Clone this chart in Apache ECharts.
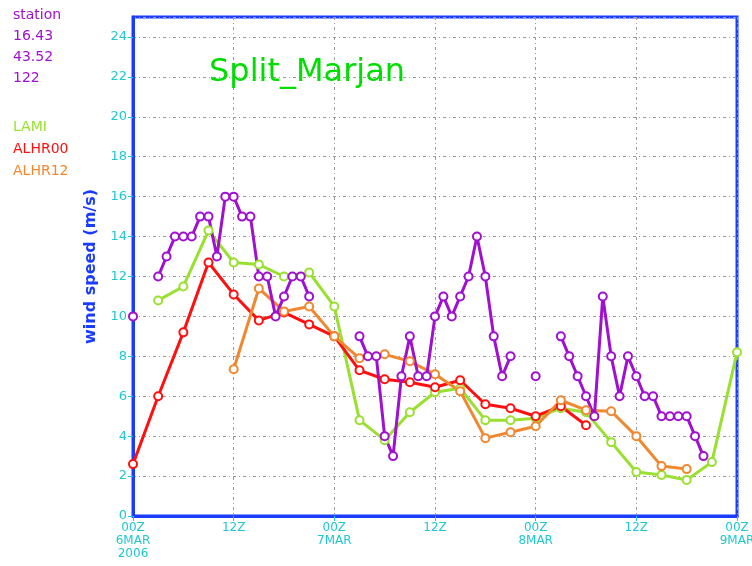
<!DOCTYPE html>
<html>
<head>
<meta charset="utf-8">
<script src="https://cdn.jsdelivr.net/npm/echarts@6/dist/echarts.min.js"></script>
<style>html,body{margin:0;padding:0;background:#fff}#c{width:752px;height:566px}</style>
</head>
<body>
<div id="c"></div>
<script>
// ---- data ----
const stationHours = [0,1,2,3,4,5,6,7,8,9,10,11,12,13,14,15,16,17,18,19,20,21,22,23,24,25,26,27,28,29,30,31,32,33,34,35,36,37,38,39,40,41,42,43,44,45,46,47,48,49,50,51,52,53,54,55,56,57,58,59,60,61,62,63,64,65,66,67,68];
const stationValues = [10,null,null,12,13,14,14,14,15,15,13,16,16,15,15,12,12,10,11,12,12,11,null,null,null,null,null,9,8,8,4,3,7,9,7,7,10,11,10,11,12,14,12,9,7,8,null,null,7,null,null,9,8,7,6,5,11,8,6,8,7,6,6,5,5,5,5,4,3];
const lamiHours = [3,6,9,12,15,18,21,24,27,30,33,36,39,42,45,48,51,54,57,60,63,66,69,72];
const lamiValues = [10.8,11.5,14.3,12.7,12.6,12.0,12.2,10.5,4.8,3.8,5.2,6.2,6.4,4.8,4.8,4.9,5.4,5.2,3.7,2.2,2.05,1.8,2.7,8.2];
const alhr00Hours = [0,3,6,9,12,15,18,21,24,27,30,33,36,39,42,45,48,51,54];
const alhr00Values = [2.6,6.0,9.2,12.7,11.1,9.8,10.2,9.6,9.0,7.3,6.85,6.7,6.45,6.8,5.6,5.4,5.0,5.5,4.55];
const alhr12Hours = [12,15,18,21,24,27,30,33,36,39,42,45,48,51,54,57,60,63,66];
const alhr12Values = [7.35,11.4,10.25,10.5,9.0,7.9,8.1,7.75,7.1,6.25,3.9,4.2,4.5,5.8,5.3,5.25,4.0,2.5,2.35];
const xTickLabels = {0:'00Z\n6MAR\n2006',12:'12Z',24:'00Z\n7MAR',36:'12Z',48:'00Z\n8MAR',60:'12Z',72:'00Z\n9MAR'};
const yTicks = [0,2,4,6,8,10,12,14,16,18,20,22,24];
const stationInfo = ['station','16.43','43.52','122'];
const legendNames = ['LAMI','ALHR00','ALHR12'];

const C_PURPLE = '#a010d0', C_GREEN = '#99e030', C_RED = '#ff1010', C_ORANGE = '#f08830';
const C_CYAN = '#20c8d0', C_BLUE = '#1a3cff';

function pairs(h, v){ return h.map((t,i)=>[t, v[i]]); }

const chart = echarts.init(document.getElementById('c'));
const gridLine = {show:true, lineStyle:{color:'#9a9a9a', width:1, type:[3,3,1,3]}};
function mkSeries(name, h, v, color){
  return {name, type:'line', data:pairs(h,v), connectNulls:false,
    symbol:'emptyCircle', symbolSize:8, showSymbol:true,
    lineStyle:{color, width:3}, itemStyle:{color, borderColor:color, borderWidth:2},
    animation:false, z:3};
}
const infoText = stationInfo.map((s,i)=>({type:'text', left:13, top:8+i*21, style:{text:s, fill:C_PURPLE, font:'14px "DejaVu Sans"'}}));
const legColors = [C_GREEN, C_RED, C_ORANGE];
const legText = legendNames.map((s,i)=>({type:'text', left:13, top:120+i*22, style:{text:s, fill:legColors[i], font:'14px "DejaVu Sans"'}}));

chart.setOption({
  animation:false,
  backgroundColor:'#fff',
  title:{text:'Split_Marjan', left:204, top:52, textStyle:{color:'#00dd00', fontSize:32, fontWeight:'normal', fontFamily:'DejaVu Sans'}},
  grid:{left:133, right:15, top:17, bottom:50, containLabel:false, outerBoundsMode:'none',
    show:true, borderColor:C_BLUE, borderWidth:3, backgroundColor:'transparent'},
  xAxis:{type:'value', min:0, max:72, interval:12,
    axisLine:{show:true, lineStyle:{color:C_BLUE, width:3}},
    axisTick:{show:true, length:5, lineStyle:{color:C_CYAN, width:1}},
    axisLabel:{color:C_CYAN, fontSize:12, fontFamily:'DejaVu Sans', lineHeight:13, margin:5,
      formatter:v=>xTickLabels[v]!==undefined?xTickLabels[v]:''},
    splitLine:gridLine},
  yAxis:{type:'value', min:0, max:25, interval:2,
    name:'wind speed (m/s)', nameLocation:'middle', nameGap:34, nameRotate:90,
    nameTextStyle:{color:C_BLUE, fontSize:16, fontWeight:'bold', fontFamily:'DejaVu Sans'},
    axisLine:{show:true, lineStyle:{color:C_BLUE, width:3}},
    axisTick:{show:true, length:5, lineStyle:{color:C_CYAN, width:1}},
    axisLabel:{color:C_CYAN, fontSize:13, fontFamily:'DejaVu Sans', margin:6, showMaxLabel:false,
      formatter:v=>yTicks.indexOf(v)>=0?String(v):''},
    splitLine:gridLine},
  graphic:infoText.concat(legText),
  series:[
    mkSeries('LAMI', lamiHours, lamiValues, C_GREEN),
    mkSeries('ALHR00', alhr00Hours, alhr00Values, C_RED),
    mkSeries('ALHR12', alhr12Hours, alhr12Values, C_ORANGE),
    mkSeries('station', stationHours, stationValues, C_PURPLE)
  ]
});
</script>
</body>
</html>
